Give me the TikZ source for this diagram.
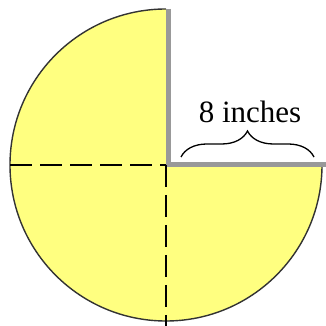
\documentclass[tikz,border=0pt]{standalone}
\usepackage{fontspec}
\setmainfont{Liberation Serif}
\usetikzlibrary{decorations.pathreplacing}
\definecolor{pieyellow}{RGB}{255,255,128}

\begin{document}
\begin{tikzpicture}[
  x=1pt, y=1pt,
  edge/.style={draw=gray!80, line width=4.5pt},
  cut/.style={dash pattern=on 22pt off 8pt, line width=2.6pt},
  lbl/.style={font=\fontsize{31}{36}\selectfont, inner sep=0pt}
]
\useasboundingbox (0,0) rectangle (326,326);
\coordinate (o)   at (166,161);
\coordinate (top) at (166,317);
\coordinate (rt)  at (322,161);

\fill[pieyellow] (o) -- (top) arc[start angle=90, end angle=360, radius=156] -- cycle;
\draw[black!80, line width=1.4pt] (top) arc[start angle=90, end angle=360, radius=156];
\draw[edge] ([xshift=2.5pt]top) -- ([xshift=2.5pt,yshift=0.5pt]o) -- ([xshift=4pt,yshift=0.5pt]rt);

\coordinate (lf) at (10,161);
\coordinate (bt) at (166,0);
\draw[cut] (lf) -- (o);
\draw[cut] (o)  -- (bt);

\coordinate (b1) at (181,169);
\coordinate (b2) at (314,169);
\draw[decorate, decoration={brace, amplitude=26pt, aspect=0.5}, line width=1.3pt] (b1) -- (b2);
\node[lbl] (len) at (250,214) {8 inches};
\end{tikzpicture}
\end{document}
